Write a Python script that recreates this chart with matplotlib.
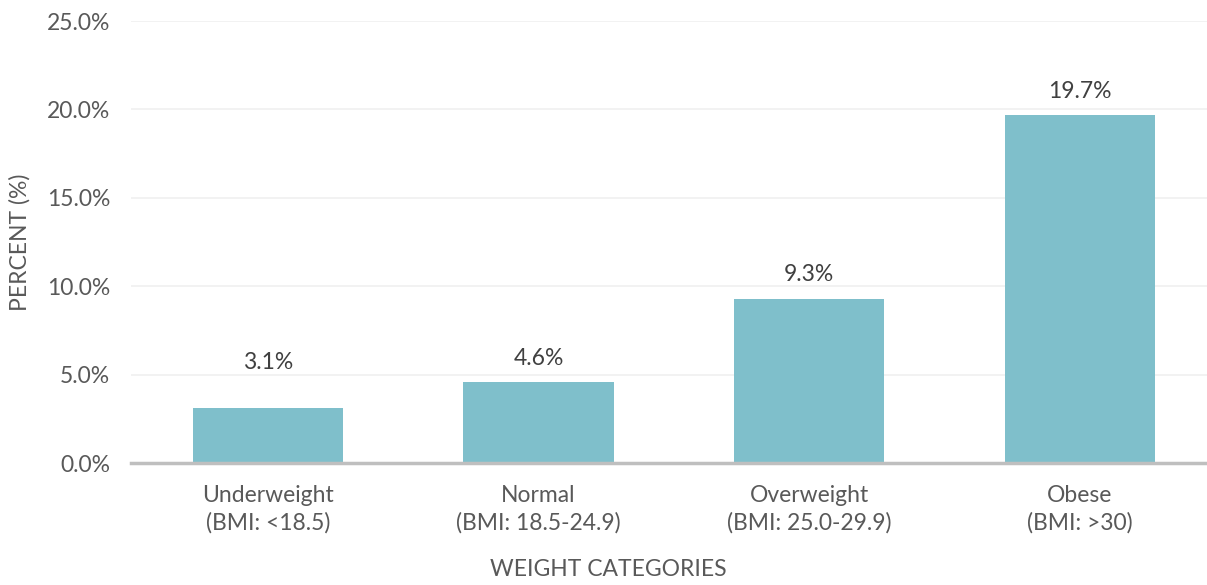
import matplotlib
matplotlib.use("Agg")
import matplotlib.pyplot as plt
from matplotlib.ticker import FuncFormatter

categories = ["Underweight\n(BMI: <18.5)", "Normal\n(BMI: 18.5-24.9)",
              "Overweight\n(BMI: 25.0-29.9)", "Obese\n(BMI: >30)"]
percent = [3.1, 4.6, 9.3, 19.7]
y_ticks = [0, 5, 10, 15, 20, 25]

plt.rcParams["font.family"] = ["Lato", "DejaVu Sans"]

W, H = 1207, 585
fig = plt.figure(figsize=(W / 100, H / 100), dpi=100)
ax = fig.add_axes([131 / W, 1 - 463 / H, 1 - 131 / W, (463 - 21) / H])

x = list(range(len(categories)))
ax.bar(x, percent, width=0.555, color="#7fbfcb", zorder=2)

ax.set_ylim(0, 25)
ax.set_xlim(-0.506, 3.47)
ax.set_yticks(y_ticks)
ax.yaxis.set_major_formatter(FuncFormatter(lambda v, _: f"{v:.1f}%"))
ax.set_xticks(x)
ax.set_xticklabels(categories, linespacing=1.32)

ax.grid(axis="y", color="#f0f0f0", linewidth=1.2, zorder=0)
for side in ("top", "right", "left"):
    ax.spines[side].set_visible(False)
ax.spines["bottom"].set_color("#bfbfbf")
ax.spines["bottom"].set_linewidth(2.5)
ax.spines["bottom"].set_zorder(3)

ax.tick_params(axis="both", length=0, labelsize=16.5, labelcolor="#595959")
ax.tick_params(axis="x", pad=16)
ax.tick_params(axis="y", pad=15)

for xi, v in zip(x, percent):
    ax.annotate(f"{v:.1f}%", xy=(xi, max(v, 4.35)), xytext=(0, 17),
                textcoords="offset points", ha="center", va="center",
                fontsize=16.5, color="#404040")

fig.text(608 / W, 1 - 570 / H, "WEIGHT CATEGORIES", fontsize=16.5,
         color="#595959", ha="center", va="center")
ax.set_ylabel("PERCENT (%)", fontsize=16.5, color="#595959", labelpad=12)

fig.savefig("out.png", dpi=100)
